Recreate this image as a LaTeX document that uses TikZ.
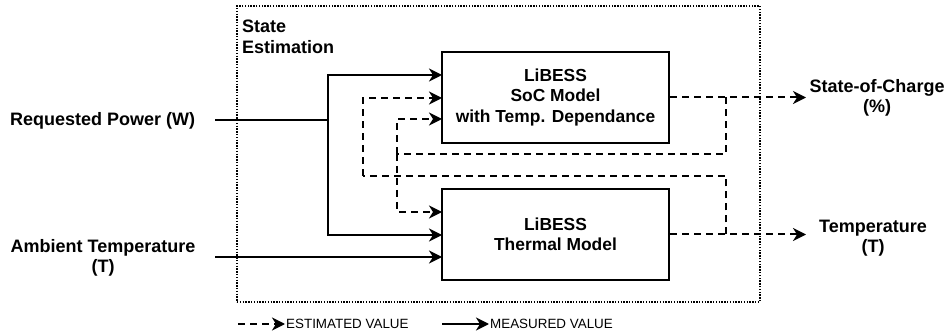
\documentclass[tikz,border=0pt]{standalone}
\usepackage{fontspec}
\setmainfont{Liberation Sans}
\usetikzlibrary{arrows.meta}
\begin{document}
\begin{tikzpicture}[x=1pt,y=-1pt,
  lbl/.style={font=\fontsize{18}{20.5}\selectfont\bfseries, align=center, inner sep=0pt},
  model/.style={draw, line width=2pt, minimum width=227pt, minimum height=91pt, inner sep=0pt,
    font=\fontsize{17.4}{20.5}\selectfont\bfseries, align=center},
  region/.style={draw, line width=1.4pt, dash pattern=on 1.4pt off 1.4pt, minimum width=523pt, minimum height=296pt, inner sep=0pt},
  wire/.style={line width=2pt},
  estwire/.style={wire, dash pattern=on 7pt off 5pt},
  tip/.style={-{Stealth[length=13pt,width=13pt,inset=4pt]}},
  meas/.style={wire, tip},
  est/.style={estwire, tip},
  legend/.style={font=\fontsize{13.4}{16}\selectfont, inner sep=0pt, anchor=west},
]
\useasboundingbox (0,0) rectangle (947,336);

% region
\node[region] (reg) at (498.5,154) {};
\node[lbl, align=left, anchor=north west] (se) at (242,20) {State\\Estimation};

% models
\node[model] (soc) at (555.5,97.5) {LiBESS\\SoC Model\\with Temp. Dependance};
\node[model] (th) at (555.5,234.5) {LiBESS\\Thermal Model};

% labels
\node[lbl, anchor=west] (rp) at (10,121) {Requested Power (W)};
\node[lbl] (amb) at (103,258) {Ambient Temperature\\(T)};
\node[lbl] (soclbl) at (877,98) {State-of-Charge\\(\%)};
\node[lbl] (tlbl) at (873,238) {Temperature\\(T)};

% coordinates
\coordinate (rpin) at (215,120);
\coordinate (ambin) at (215,257);
\coordinate (j1) at (328,120);
\coordinate (socA) at (442,75);
\coordinate (socB) at (442,98);
\coordinate (socC) at (442,119);
\coordinate (thA) at (442,212);
\coordinate (thB) at (442,235);
\coordinate (thC) at (442,257);
\coordinate (socend) at (806,97.5);
\coordinate (tend) at (806,234.5);
\coordinate (fb1a) at (726,97.5);
\coordinate (fb1b) at (726,154);
\coordinate (fb1c) at (397,154);
\coordinate (fb2a) at (726,234.5);
\coordinate (fb2b) at (726,176);
\coordinate (fb2c) at (363,176);

% measured
\draw[wire] (rpin) -- (j1);
\draw[meas] (j1) |- (socA);
\draw[meas] (j1) |- (thB);
\draw[meas] (ambin) -- (thC);

% estimated
\draw[est] (soc.east) -- (socend);
\draw[est] (th.east) -- (tend);
\draw[estwire] (fb1a) -- (fb1b) -- (fb1c);
\draw[est] (fb1c) |- (socC);
\draw[est] (fb1c) |- (thA);
\draw[estwire] (fb2a) -- (fb2b) -- (fb2c);
\draw[est] (fb2c) |- (socB);

% legend
\coordinate (l1a) at (238,324);
\coordinate (l1b) at (285,324);
\coordinate (l2a) at (442,324);
\coordinate (l2b) at (489,324);
\draw[est] (l1a) -- (l1b);
\node[legend] (l1t) at (286,324) {ESTIMATED VALUE};
\draw[meas] (l2a) -- (l2b);
\node[legend] (l2t) at (490,324) {MEASURED VALUE};
\end{tikzpicture}
\end{document}
